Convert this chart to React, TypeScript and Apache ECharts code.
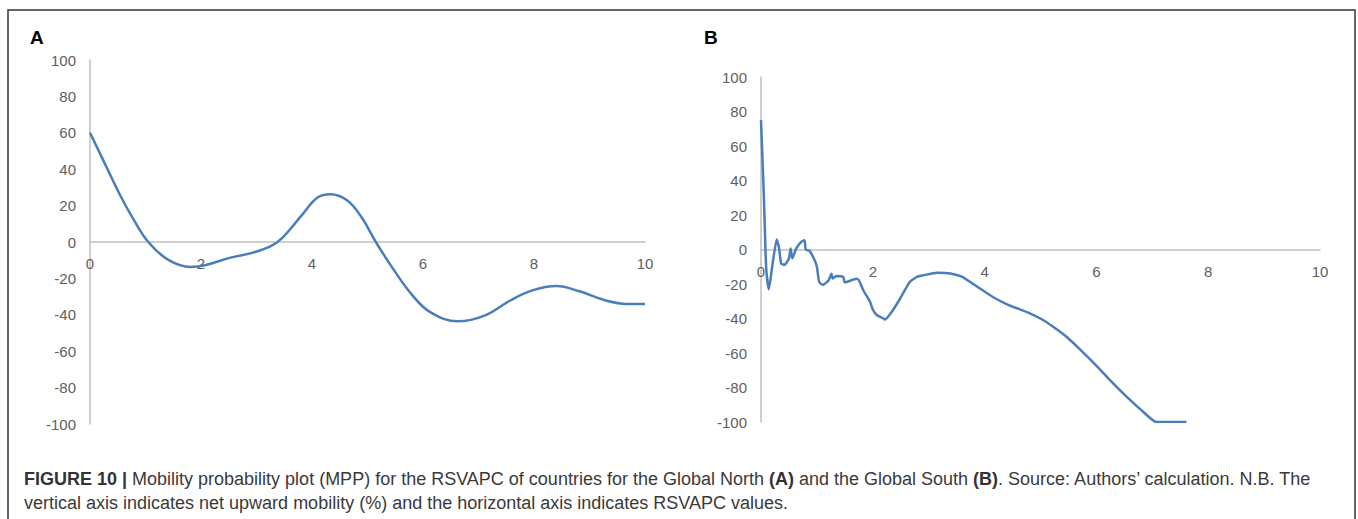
import React, { useEffect, useRef } from "react";
import * as echarts from "echarts";

// Panel A – Global North
const northX = [0, 0.3, 0.56, 0.76, 1.05, 1.42, 1.81, 2.07, 2.53, 2.92, 3.25, 3.45, 3.84, 4.1, 4.33, 4.63, 4.89, 5.15, 5.48, 5.81, 6.13, 6.63, 7.12, 7.58, 7.97, 8.4, 8.82, 9.28, 9.67, 10];
const northY = [60, 41, 24.7, 13.7, 0, -10, -13.7, -12.8, -8.6, -6, -2.4, 1.8, 15.6, 24.4, 26.2, 22.9, 13.7, 0, -15.6, -29.3, -38.5, -43.6, -40.3, -32, -26.6, -24.2, -27.1, -32, -34, -34];

// Panel B – Global South
const southX = [0, 0.05, 0.08, 0.1, 0.14, 0.2, 0.28, 0.32, 0.36, 0.42, 0.5, 0.53, 0.56, 0.63, 0.72, 0.78, 0.8, 0.87, 0.96, 1.0, 1.04, 1.11, 1.21, 1.26, 1.28, 1.35, 1.47, 1.5, 1.71, 1.75, 1.83, 1.95, 2.0, 2.07, 2.19, 2.22, 2.34, 2.49, 2.66, 2.79, 2.91, 3.15, 3.39, 3.6, 3.87, 4.14, 4.41, 4.79, 5.03, 5.27, 5.48, 5.72, 5.99, 6.26, 6.53, 6.8, 7.07, 7.61];
const southY = [75, 32, 0, -14, -23, -10, 5.8, 1.5, -8, -9, -5.2, 0.6, -5.2, 0.6, 4.4, 5.4, 0, -0.8, -6.2, -10, -18.8, -20.5, -17.8, -14, -16.8, -15.3, -15.8, -19, -17, -17.8, -23.6, -30.3, -34.8, -38, -40, -40.6, -36.1, -28.4, -18.8, -15.8, -14.9, -13.5, -13.9, -15.8, -21.6, -27.4, -31.9, -36.7, -40.6, -45.8, -51, -58.3, -67, -76.3, -85, -93, -100, -100];

const panelLabels = ["A", "B"];
const captionLine1 = [
  ["FIGURE 10 | ", "b"],
  ["Mobility probability plot (MPP) for the RSVAPC of countries for the Global North ", "n"],
  ["(A)", "b"],
  [" and the Global South ", "n"],
  ["(B)", "b"],
  [". Source: Authors\u2019 calculation. N.B. The", "n"],
];
const captionLine2 = "vertical axis indicates net upward mobility (%) and the horizontal axis indicates RSVAPC values.";

const LINE_COLOR = "#4a7ebb";
const AXIS_COLOR = "#bfbfbf";
const LABEL_COLOR = "#606060";
const TICK_FONT = "Liberation Sans";

const grids = [
  { left: 90, top: 60, width: 555, height: 364 },
  { left: 761, top: 77, width: 559, height: 345 },
];

function xAxisCfg(gridIndex: number) {
  return {
    type: "value",
    gridIndex,
    min: 0,
    max: 10,
    interval: 2,
    position: "bottom",
    offset: -grids[gridIndex].height / 2,
    axisLine: { show: true, onZero: false, lineStyle: { color: AXIS_COLOR, width: 1.5 } },
    axisTick: { show: false },
    splitLine: { show: false },
    axisLabel: { color: LABEL_COLOR, fontSize: 15, fontFamily: TICK_FONT, margin: 14 },
  };
}
function yAxisCfg(gridIndex: number) {
  return {
    type: "value",
    gridIndex,
    min: -100,
    max: 100,
    interval: 20,
    axisLine: { show: true, onZero: false, lineStyle: { color: AXIS_COLOR, width: 1.5 } },
    axisTick: { show: false },
    splitLine: { show: false },
    axisLabel: { color: LABEL_COLOR, fontSize: 15, fontFamily: TICK_FONT, margin: 14 },
  };
}

export default function App() {
  const ref = useRef<HTMLDivElement>(null);
  useEffect(() => {
    if (!ref.current) return;
    const chart = echarts.init(ref.current, undefined, { renderer: "svg" });
    const northData = northX.map((x, i) => [x, northY[i]]);
    const southData = southX.map((x, i) => [x, southY[i]]);
    const rich = {
      b: { fontFamily: "Liberation Sans", fontSize: 18, fontWeight: "bold", fill: "#333" },
      n: { fontFamily: "Liberation Sans", fontSize: 18, fill: "#3a3a3a" },
    };
    chart.setOption({
      animation: false,
      backgroundColor: "#ffffff",
      grid: grids,
      xAxis: [xAxisCfg(0), xAxisCfg(1)],
      yAxis: [yAxisCfg(0), yAxisCfg(1)],
      series: [
        {
          type: "line",
          xAxisIndex: 0,
          yAxisIndex: 0,
          data: northData,
          smooth: 0.4,
          showSymbol: false,
          lineStyle: { color: LINE_COLOR, width: 2.5 },
        },
        {
          type: "line",
          xAxisIndex: 1,
          yAxisIndex: 1,
          data: southData,
          smooth: 0.15,
          showSymbol: false,
          lineStyle: { color: LINE_COLOR, width: 2.5 },
        },
      ],
      graphic: [
        {
          type: "rect",
          shape: { x: 8, y: 10, width: 1347, height: 530 },
          style: { fill: "none", stroke: "#333", lineWidth: 1.5 },
          silent: true,
        },
        {
          type: "text",
          x: 30,
          y: 28,
          style: { text: panelLabels[0], fontFamily: "Liberation Sans", fontSize: 19, fontWeight: "bold", fill: "#000" },
        },
        {
          type: "text",
          x: 704,
          y: 28,
          style: { text: panelLabels[1], fontFamily: "Liberation Sans", fontSize: 19, fontWeight: "bold", fill: "#000" },
        },
        {
          type: "text",
          x: 24,
          y: 470,
          style: {
            text: captionLine1.map(([t, s]) => `{${s}|${t}}`).join(""),
            rich,
          },
        },
        {
          type: "text",
          x: 24,
          y: 494,
          style: { text: captionLine2, fontFamily: "Liberation Sans", fontSize: 18, fill: "#3a3a3a" },
        },
      ],
    });
    return () => chart.dispose();
  }, []);
  return (
    <div
      ref={ref}
      style={{ position: "fixed", left: 0, top: 0, width: 1358, height: 519, background: "#fff" }}
    />
  );
}
